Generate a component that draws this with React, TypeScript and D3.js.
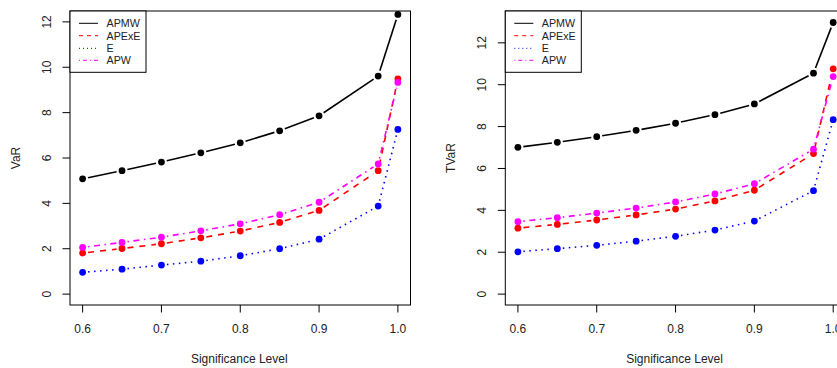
import React from "react";
import * as d3 from "d3";

const levels = [0.6, 0.65, 0.7, 0.75, 0.8, 0.85, 0.9, 0.975, 1.0];
const seriesNames = ["APMW", "APExE", "E", "APW"];
const seriesColors = ["#000000", "#FF0000", "#0000FF", "#FF00FF"];
const seriesDash = ["", "6,6", "1.5,4.5", "1.5,4.5,6,4.5"];
const legendDash = ["", "4,4", "1,3", "1,3,4,3"];

const varAPMW = [5.08, 5.44, 5.82, 6.23, 6.67, 7.2, 7.86, 9.61, 12.33];
const varAPExE = [1.81, 2.01, 2.22, 2.48, 2.78, 3.16, 3.69, 5.44, 9.49];
const varE = [0.96, 1.1, 1.28, 1.45, 1.69, 2.0, 2.42, 3.88, 7.26];
const varAPW = [2.06, 2.28, 2.51, 2.79, 3.1, 3.5, 4.05, 5.74, 9.33];

const tvarAPMW = [7.01, 7.25, 7.52, 7.82, 8.16, 8.57, 9.08, 10.55, 12.97];
const tvarAPExE = [3.15, 3.33, 3.54, 3.78, 4.06, 4.45, 4.96, 6.71, 10.76];
const tvarE = [2.02, 2.17, 2.33, 2.53, 2.76, 3.06, 3.49, 4.94, 8.33];
const tvarAPW = [3.46, 3.65, 3.87, 4.11, 4.4, 4.78, 5.27, 6.92, 10.39];

const xTicks = [0.6, 0.7, 0.8, 0.9, 1.0];
const yTicks = [0, 2, 4, 6, 8, 10, 12];
const xTitle = "Significance Level";

const FONT = "'Liberation Sans', Arial, Helvetica, sans-serif";

type PanelProps = {
  left: number;
  yLabel: string;
  yDomain: [number, number];
  series: number[][];
};

function Panel({ left, yLabel, yDomain, series }: PanelProps) {
  const top = 11;
  const bottom = 305;
  const width = 340.5;
  const x = d3.scaleLinear().domain([0.584, 1.016]).range([left, left + width]);
  const y = d3.scaleLinear().domain(yDomain).range([bottom, top]);
  const gap = 5.5;

  const segs = (vals: number[]) => {
    const out: { x1: number; y1: number; x2: number; y2: number }[] = [];
    for (let i = 0; i < vals.length - 1; i++) {
      const ax = x(levels[i]), ay = y(vals[i]);
      const bx = x(levels[i + 1]), by = y(vals[i + 1]);
      const dx = bx - ax, dy = by - ay;
      const len = Math.hypot(dx, dy);
      if (len <= 2 * gap) continue;
      const ux = dx / len, uy = dy / len;
      out.push({ x1: ax + ux * gap, y1: ay + uy * gap, x2: bx - ux * gap, y2: by - uy * gap });
    }
    return out;
  };

  const lineGen = d3.line<{ x1: number; y1: number; x2: number; y2: number }>();

  const tickLabelX = left - 23.5;
  const yTitleX = left - 54;
  const legendRows = [23.3, 35.7, 48.3, 60.3];

  return (
    <g>
      {series.map((vals, si) => (
        <g key={si}>
          {segs(vals).map((s, k) => (
            <path
              key={k}
              d={d3.line()([[s.x1, s.y1], [s.x2, s.y2]]) || ""}
              stroke={seriesColors[si]}
              strokeWidth={1.6}
              strokeDasharray={seriesDash[si]}
              fill="none"
            />
          ))}
          {vals.map((v, k) => (
            <circle key={k} cx={x(levels[k])} cy={y(v)} r={3.4} fill={seriesColors[si]} />
          ))}
        </g>
      ))}
      <rect x={left} y={top} width={width} height={bottom - top} fill="none" stroke="#000" strokeWidth={1} />
      {xTicks.map((t) => (
        <g key={t}>
          <line x1={x(t)} x2={x(t)} y1={bottom} y2={bottom + 7.5} stroke="#000" />
          <text x={x(t)} y={332.5} textAnchor="middle" fontSize={12} fontFamily={FONT} fill="#222">
            {t.toFixed(1)}
          </text>
        </g>
      ))}
      {yTicks.map((t) => (
        <g key={t}>
          <line x1={left - 7.5} x2={left} y1={y(t)} y2={y(t)} stroke="#000" />
          <text
            transform={`translate(${tickLabelX},${y(t)}) rotate(-90)`}
            textAnchor="middle"
            dominantBaseline="central"
            fontSize={12}
            fontFamily={FONT}
            fill="#222"
          >
            {t}
          </text>
        </g>
      ))}
      <text
        x={left + width / 2 - 1}
        y={363}
        textAnchor="middle"
        fontSize={12}
        fontFamily={FONT}
        fill="#222"
      >
        {xTitle}
      </text>
      <text
        transform={`translate(${yTitleX},${(top + bottom) / 2}) rotate(-90)`}
        textAnchor="middle"
        dominantBaseline="central"
        fontSize={12}
        fontFamily={FONT}
        fill="#222"
      >
        {yLabel}
      </text>
      <rect x={left} y={top} width={76} height={61.3} fill="#fff" stroke="#000" strokeWidth={1} />
      {seriesNames.map((n, i) => (
        <g key={n}>
          <line
            x1={left + 9}
            x2={left + 28}
            y1={legendRows[i]}
            y2={legendRows[i]}
            stroke={seriesColors[i]}
            strokeWidth={1}
            strokeDasharray={legendDash[i]}
          />
          <text
            x={left + 36.5}
            y={legendRows[i]}
            dominantBaseline="central"
            fontSize={10.7}
            fontFamily={FONT}
            fill="#222"
          >
            {n}
          </text>
        </g>
      ))}
    </g>
  );
}

export default function App() {
  return (
    <svg
      width={837}
      height={368}
      style={{ position: "absolute", left: 0, top: 0, background: "#fff" }}
    >
      <Panel left={70} yLabel="VaR" yDomain={[-0.48, 12.48]} series={[varAPMW, varAPExE, varE, varAPW]} />
      <Panel left={505.3} yLabel="TVaR" yDomain={[-0.52, 13.52]} series={[tvarAPMW, tvarAPExE, tvarE, tvarAPW]} />
    </svg>
  );
}
